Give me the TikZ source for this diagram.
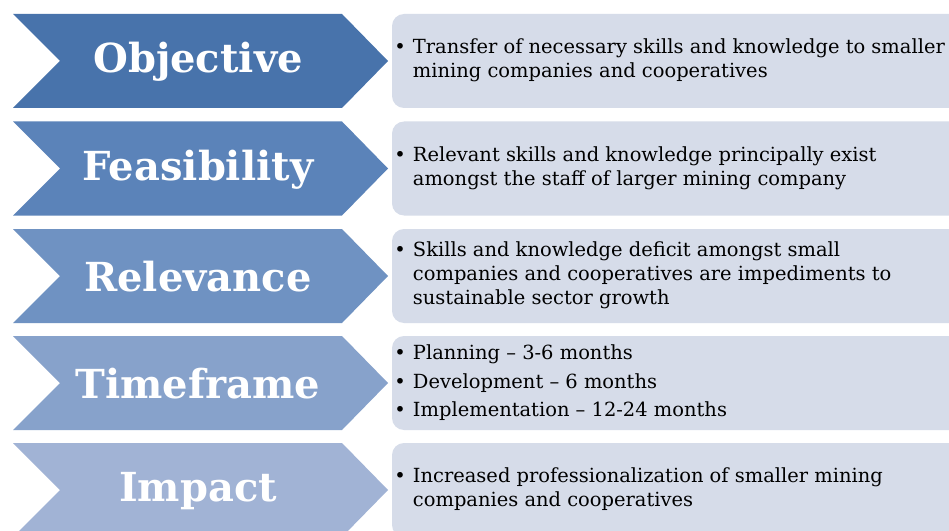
\documentclass[tikz,border=0pt]{standalone}
\usepackage{fontspec}
\setmainfont{DejaVu Serif}
\definecolor{c1}{HTML}{4873AB}
\definecolor{c2}{HTML}{5B83B9}
\definecolor{c3}{HTML}{6F92C2}
\definecolor{c4}{HTML}{87A2CB}
\definecolor{c5}{HTML}{A1B3D5}
\definecolor{boxc}{HTML}{D6DCE9}
\tikzset{
  titletext/.style={text=white,font=\fontsize{30}{35}\selectfont\bfseries,inner sep=0pt},
  bodytext/.style={anchor=west,font=\fontsize{14.6}{18}\selectfont,inner sep=0pt,align=left,text=black},
  infobox/.style={fill=boxc,draw=none,rounded corners=9pt}
}
\newcommand{\chev}[2]{\fill[#2] (13,#1) -- (342,#1) -- (388,#1+47) -- (342,#1+94) -- (13,#1+94) -- (60,#1+47) -- cycle;}
\begin{document}
\begin{tikzpicture}[x=0.75pt,y=-0.75pt]
\useasboundingbox (0,0) rectangle (949,531);
\clip (0,0) rectangle (949,531);
\fill[white] (0,0) rectangle (949,531);
% chevrons
\chev{14}{c1}
\chev{121.5}{c2}
\chev{229}{c3}
\chev{336}{c4}
\chev{443}{c5}
% boxes
\fill[infobox] (392,14) rectangle (1000,108);
\fill[infobox] (392,121.5) rectangle (1000,215.5);
\fill[infobox] (392,229) rectangle (1000,323);
\fill[infobox] (392,336) rectangle (1000,430);
\fill[infobox] (392,443) rectangle (1000,537);
% titles
\node[titletext] (t1) at (198,62) {Objective};
\node[titletext] (t2) at (198,169.5) {Feasibility};
\node[titletext] (t3) at (198,277) {Relevance};
\node[titletext] (t4) at (198,384) {Timeframe};
\node[titletext] (t5) at (198,491) {Impact};
% body texts
\node[bodytext] (b1) at (394,61) {\begin{tabular}{@{}p{14pt}@{}l@{}}\textbullet & Transfer of necessary skills and knowledge to smaller\\ & mining companies and cooperatives\end{tabular}};
\node[bodytext] (b2) at (394,168.5) {\begin{tabular}{@{}p{14pt}@{}l@{}}\textbullet & Relevant skills and knowledge principally exist\\ & amongst the staff of larger mining company\end{tabular}};
\node[bodytext] (b3) at (394,276) {\begin{tabular}{@{}p{14pt}@{}l@{}}\textbullet & Skills and knowledge deficit amongst small\\ & companies and cooperatives are impediments to\\ & sustainable sector growth\end{tabular}};
\node[bodytext] (b4) at (394,383.5) {\begin{tabular}{@{}p{14pt}@{}l@{}}\textbullet & Planning -- 3-6 months\\[3.5pt] \textbullet & Development -- 6 months\\[3.5pt] \textbullet & Implementation\ -- 12-24 months\end{tabular}};
\node[bodytext] (b5) at (394,490) {\begin{tabular}{@{}p{14pt}@{}l@{}}\textbullet & Increased professionalization of smaller mining\\ & companies and cooperatives\end{tabular}};
\end{tikzpicture}
\end{document}
